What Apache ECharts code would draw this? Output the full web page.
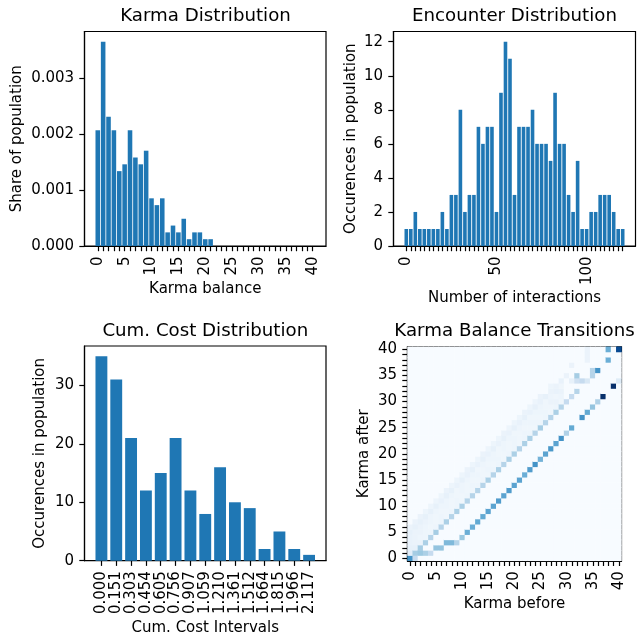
<!DOCTYPE html>
<html>
<head>
<meta charset="utf-8">
<script src="https://cdn.jsdelivr.net/npm/echarts@6/dist/echarts.min.js"></script>
<style>
  html, body { margin: 0; padding: 0; background: #ffffff; }
  #chart { width: 637px; height: 641px; }
</style>
</head>
<body>
<div id="chart"></div>
<script>
// ---- Karma distribution (share of population per karma balance) ----
const karmaBalance = [0,1,2,3,4,5,6,7,8,9,10,11,12,13,14,15,16,17,18,19,20,
                      21,22,23,24,25,26,27,28,29,30,31,32,33,34,35,36,37,38,39,40];
const karmaShare = [0.002073,0.003659,0.002317,0.002073,0.001341,0.001463,0.002073,0.001585,
                    0.001463,0.001707,0.000854,0.000732,0.000854,0.000244,0.000366,0.000244,
                    0.000488,0.000122,0.000244,0.000244,0.000122,0.000122,0,0,0,0,0,0,0,0,0,
                    0,0,0,0,0,0,0,0,0,0];
const karmaTickLabels = [0,5,10,15,20,25,30,35,40];
const shareTickLabels = [0,0.001,0.002,0.003];

// ---- Encounter distribution ----
const interactionBins = [0,2.5,5,7.5,10,12.5,15,17.5,20,22.5,25,27.5,30,32.5,35,37.5,40,42.5,
                         45,47.5,50,52.5,55,57.5,60,62.5,65,67.5,70,72.5,75,77.5,80,82.5,85,
                         87.5,90,92.5,95,97.5,100,102.5,105,107.5,110,112.5,115,117.5,120];
const encounterCounts = [1,1,2,1,1,1,1,1,2,1,3,3,8,2,3,3,7,6,7,7,2,9,12,11,3,7,7,7,8,6,6,6,
                         5,9,6,6,3,2,5,1,1,2,2,3,3,3,2,1,1];
const interactionTickLabels = [0,50,100];
const encounterTickLabels = [0,2,4,6,8,10,12];

// ---- Cumulative cost distribution ----
const costIntervals = ['0.000','0.151','0.303','0.454','0.605','0.756','0.907','1.059',
                       '1.210','1.361','1.512','1.664','1.815','1.966','2.117'];
const costCounts = [35,31,21,12,15,21,12,8,16,10,9,2,5,2,1];
const costTickLabels = [0,10,20,30];

// ---- Karma balance transitions (karma before -> karma after) ----
const karmaLevels = ['0','1','2','3','4','5','6','7','8','9','10','11','12','13','14','15',
                     '16','17','18','19','20','21','22','23','24','25','26','27','28','29',
                     '30','31','32','33','34','35','36','37','38','39','40'];
// probability of keeping the same balance, indexed by karma before
const keepShare = [0.62,0.35,0.35,0.33,0.30,0.35,0.30,0.33,0.30,0.33,0.33,0.30,0.30,0.30,
                   0.30,0.33,0.30,0.33,0.30,0.33,0.33,0.30,0.33,0.33,0.30,0.35,0.30,0.30,
                   0.33,0.30,0.25,0.25,0.30,0,0.08,0.30,0.62,0,0.50,0,0.90];
// [before, after, share] for balances that drop
const dropCells = [[1,0,0.25],[2,1,0.38],[3,1,0.33],[4,1,0.25],[5,2,0.40],[6,2,0.40],
                   [7,3,0.45],[8,3,0.45],[9,3,0.30],[10,4,0.38],[11,5,0.50],[12,6,0.50],
                   [13,7,0.52],[14,8,0.52],[15,9,0.55],[16,10,0.55],[17,11,0.58],[18,12,0.55],
                   [19,13,0.58],[20,14,0.55],[21,15,0.55],[22,16,0.50],[23,17,0.58],
                   [24,18,0.62],[25,19,0.48],[26,20,0.55],[27,21,0.60],[28,22,0.55],
                   [29,23,0.62],[30,24,0.32],[31,25,0.52],[33,27,0.62],[34,28,0.52],
                   [35,29,0.40],[36,30,0.32],[37,31,1.00],[39,33,1.00],[40,34,0.12]];
// shares of gaining 1..6 karma, one row per karma before (0..29)
const gainShares = [
  [0.10,0.08,0.07,0.07,0.08,0.06],[0.08,0.06,0.06,0.06,0.08,0.06],[0.06,0.05,0.06,0.06,0.08,0.06],
  [0.05,0.05,0.05,0.06,0.08,0.05],[0.05,0.04,0.05,0.05,0.08,0.05],[0.05,0.04,0.04,0.05,0.08,0.05],
  [0.05,0.05,0.04,0.05,0.07,0.05],[0.04,0.04,0.05,0.05,0.08,0.06],[0.05,0.04,0.04,0.05,0.08,0.05],
  [0.05,0.05,0.04,0.04,0.07,0.05],[0.04,0.04,0.05,0.05,0.08,0.05],[0.05,0.04,0.04,0.05,0.07,0.06],
  [0.04,0.05,0.04,0.05,0.08,0.05],[0.05,0.04,0.05,0.04,0.07,0.05],[0.05,0.04,0.04,0.05,0.08,0.06],
  [0.04,0.05,0.04,0.05,0.07,0.05],[0.05,0.04,0.05,0.05,0.08,0.05],[0.05,0.05,0.04,0.04,0.07,0.05],
  [0.04,0.04,0.05,0.05,0.08,0.06],[0.05,0.04,0.04,0.05,0.07,0.05],[0.05,0.05,0.05,0.04,0.08,0.05],
  [0.04,0.04,0.04,0.05,0.07,0.05],[0.05,0.05,0.04,0.05,0.08,0.06],[0.05,0.04,0.05,0.04,0.07,0.05],
  [0.04,0.05,0.04,0.05,0.08,0.05],[0.05,0.04,0.05,0.05,0.07,0.06],[0.05,0.05,0.04,0.04,0.08,0],
  [0.04,0.04,0.06,0.05,0.06,0.05],[0.05,0.06,0.04,0.07,0.06,0],[0.04,0.05,0.06,0.04,0.07,0]
];
// remaining upper-range transitions [before, after, share]
const upperCells = [[30,35,0.06],[31,34,0.08],[31,37,0.06],[32,34,0.20],[32,35,0.35],
                    [33,34,0.25],[34,34,0.15],[34,38,0.06],[34,39,0.06],[34,40,0.06],
                    [35,36,0.30],[38,40,0.50]];
const blues = ['#f7fbff','#deebf7','#c6dbef','#9ecae1','#6baed6','#4292c6','#2171b5','#08519c','#08306b'];

// assemble the full 41x41 grid of cells
const n = karmaLevels.length;
const grid = [];
for (let i = 0; i < n; i++) grid.push(new Array(n).fill(0));
keepShare.forEach((v, i) => { grid[i][i] = v; });
gainShares.forEach((row, i) => row.forEach((v, d) => { if (i + d + 1 < n) grid[i][i + d + 1] = v; }));
dropCells.forEach(([b, a, v]) => { grid[b][a] = v; });
upperCells.forEach(([b, a, v]) => { grid[b][a] = v; });
const transitionData = [];
for (let b = 0; b < n; b++) for (let a = 0; a < n; a++) transitionData.push([b, a, grid[b][a]]);

// ---- shared styling ----
const FONT = 'DejaVu Sans';
const TICK = 15;
function axis(opts) {
  const base = {
    axisLine: { show: true, onZero: false, lineStyle: { color: '#000', width: 1.2 } },
    axisTick: { show: true, inside: false, length: 5.2, lineStyle: { color: '#000', width: 1.2 } },
    axisLabel: { color: '#000', fontFamily: FONT, fontSize: TICK, margin: 10.4 },
    splitLine: { show: false },
    nameLocation: 'middle',
    nameTextStyle: { color: '#000', fontFamily: FONT, fontSize: TICK }
  };
  const out = Object.assign({}, base, opts);
  ['axisTick', 'axisLabel', 'axisLine'].forEach(k => {
    if (opts[k]) out[k] = Object.assign({}, base[k], opts[k]);
  });
  return out;
}
function title(text, cx, top) {
  return { text, left: cx, top, textAlign: 'center', padding: 0,
           textStyle: { fontFamily: FONT, fontSize: 18.2, fontWeight: 'normal', color: '#000', lineHeight: 18 } };
}
const frame = { show: true, borderColor: '#000', borderWidth: 1.2, backgroundColor: 'transparent' };

const chart = echarts.init(document.getElementById('chart'), null, { renderer: 'canvas' });
chart.setOption({
  animation: false,
  backgroundColor: '#ffffff',
  title: [
    title('Karma Distribution', 205.5, 7.7),
    title('Encounter Distribution', 514.5, 7.7),
    title('Cum. Cost Distribution', 205.3, 322.7),
    title('Karma Balance Transitions', 514.5, 322.7)
  ],
  grid: [
    Object.assign({ left: 84.5, top: 31.5, width: 241.5, height: 214.5 }, frame),
    Object.assign({ left: 393.5, top: 31.5, width: 242, height: 214.5 }, frame),
    Object.assign({ left: 84.5, top: 346, width: 241.5, height: 214.7 }, frame),
    Object.assign({ left: 407.5, top: 346.8, width: 214, height: 214 }, frame)
  ],
  xAxis: [
    axis({ gridIndex: 0, type: 'value', min: -2.47, max: 42.47, name: 'Karma balance', nameGap: 35.5,
           axisTick: { customValues: karmaBalance },
           axisLabel: { customValues: karmaTickLabels, rotate: 90 } }),
    axis({ gridIndex: 1, type: 'value', min: -7.1, max: 127.1, name: 'Number of interactions', nameGap: 44.5,
           axisTick: { customValues: interactionBins },
           axisLabel: { customValues: interactionTickLabels, rotate: 90 } }),
    axis({ gridIndex: 2, type: 'value', min: -1.14, max: 15.14, name: 'Cum. Cost Intervals', nameGap: 60,
           axisTick: { customValues: costIntervals.map((_, i) => i) },
           axisLabel: { customValues: costIntervals.map((_, i) => i), rotate: 90,
                        formatter: v => costIntervals[Math.round(v)] } }),
    axis({ gridIndex: 3, type: 'category', data: karmaLevels, boundaryGap: true, name: 'Karma before', nameGap: 36,
           axisTick: { alignWithLabel: true, interval: 0 },
           axisLabel: { interval: 4, rotate: 90 } })
  ],
  yAxis: [
    axis({ gridIndex: 0, type: 'value', min: 0, max: 0.003842, name: 'Share of population', nameGap: 60,
           axisTick: { customValues: shareTickLabels },
           axisLabel: { customValues: shareTickLabels, formatter: v => v.toFixed(3) } }),
    axis({ gridIndex: 1, type: 'value', min: 0, max: 12.6, name: 'Occurences in population', nameGap: 35,
           axisTick: { customValues: encounterTickLabels },
           axisLabel: { customValues: encounterTickLabels } }),
    axis({ gridIndex: 2, type: 'value', min: 0, max: 36.75, name: 'Occurences in population', nameGap: 37,
           axisTick: { customValues: costTickLabels },
           axisLabel: { customValues: costTickLabels } }),
    axis({ gridIndex: 3, type: 'category', data: karmaLevels, boundaryGap: true, name: 'Karma after', nameGap: 35.5,
           axisTick: { alignWithLabel: true, interval: 0 },
           axisLabel: { interval: 4 } })
  ],
  visualMap: {
    type: 'continuous', show: false, min: 0, max: 1, dimension: 2, seriesIndex: 3,
    inRange: { color: blues }
  },
  series: [
    { type: 'bar', xAxisIndex: 0, yAxisIndex: 0, barWidth: '85%', itemStyle: { color: '#1f77b4' },
      data: karmaBalance.map((k, i) => [k, karmaShare[i]]) },
    { type: 'bar', xAxisIndex: 1, yAxisIndex: 1, barWidth: '80%', itemStyle: { color: '#1f77b4' },
      data: interactionBins.map((b, i) => [b, encounterCounts[i]]) },
    { type: 'bar', xAxisIndex: 2, yAxisIndex: 2, barWidth: '80%', itemStyle: { color: '#1f77b4' },
      data: costCounts.map((c, i) => [i, c]) },
    { type: 'heatmap', xAxisIndex: 3, yAxisIndex: 3, data: transitionData, progressive: 0,
      emphasis: { disabled: true } }
  ]
});
</script>
</body>
</html>
